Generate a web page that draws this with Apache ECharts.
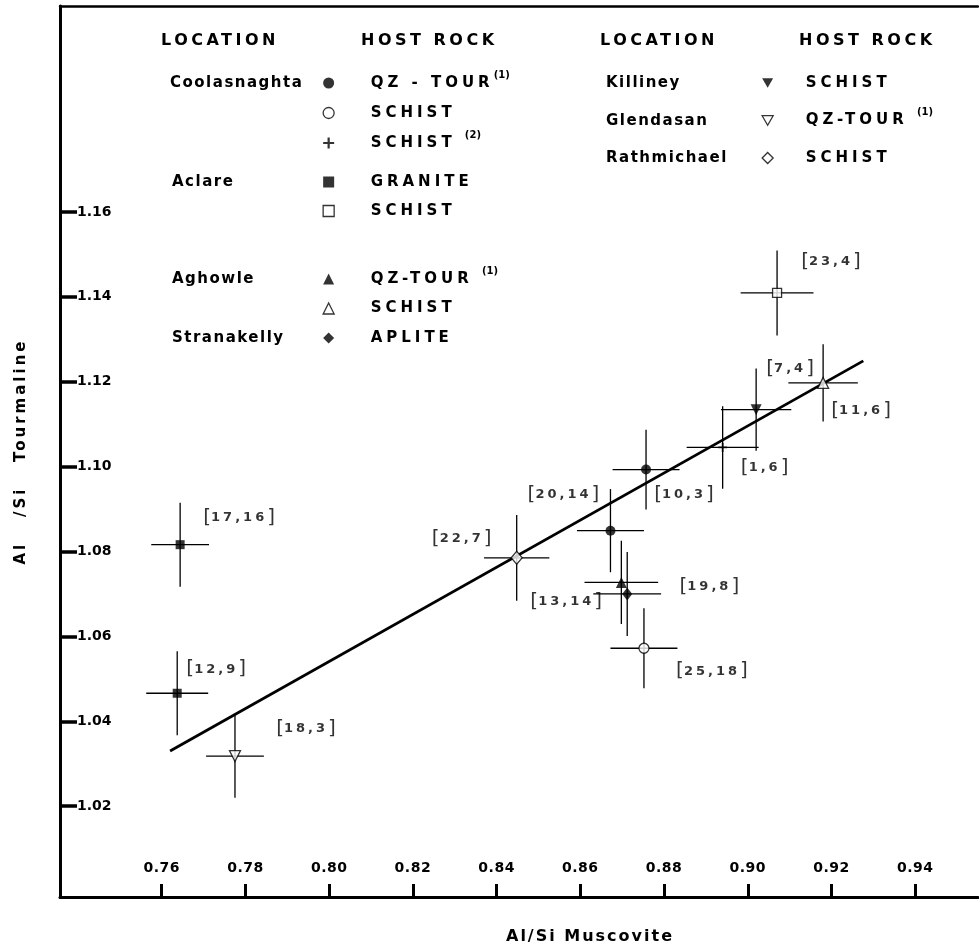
<!DOCTYPE html>
<html><head><meta charset="utf-8">
<script src="https://cdn.jsdelivr.net/npm/echarts@6/dist/echarts.min.js"></script>
<style>html,body{margin:0;padding:0;background:#fff}#chart{width:979px;height:951px}</style>
</head><body><div id="chart"></div>
<script>
// Letter spacing support: a fallback family "lsNN" in the font string means NN tenths of a px.
(function () {
  const proto = window.CanvasRenderingContext2D && CanvasRenderingContext2D.prototype;
  if (!proto || !('letterSpacing' in proto)) return;
  const re = /ls(\d+)/;
  const apply = ctx => { const m = re.exec(ctx.font); ctx.letterSpacing = m ? (m[1] / 10) + 'px' : '0px'; };
  const ft = proto.fillText, st = proto.strokeText, mt = proto.measureText;
  proto.fillText = function () { apply(this); return ft.apply(this, arguments); };
  proto.strokeText = function () { apply(this); return st.apply(this, arguments); };
  proto.measureText = function () { apply(this); return mt.apply(this, arguments); };
})();

// ---------------- DATA ----------------
const xTicks = [0.76, 0.78, 0.80, 0.82, 0.84, 0.86, 0.88, 0.90, 0.92, 0.94];
const yTicks = [1.02, 1.04, 1.06, 1.08, 1.10, 1.12, 1.14, 1.16];
// [Al/Si muscovite, Al/Si tourmaline, x error, y error, label]
const coolasnaghtaQzTour = [[0.8672, 1.0849, 0.0080, 0.0098, '20,14'], [0.8757, 1.0993, 0.0080, 0.0094, '10,3']];
const coolasnaghtaSchist = [[0.8752, 1.0572, 0.0080, 0.0094, '25,18']];
const coolasnaghtaSchist2 = [[0.8940, 1.1045, 0.0086, 0.0097, '1,6']];
const aclareGranite = [[0.7644, 1.0816, 0.0069, 0.0099, '17,16'], [0.7637, 1.0466, 0.0074, 0.0099, '12,9']];
const aclareSchist = [[0.9070, 1.1409, 0.0087, 0.0100, '23,4']];
const aghowleQzTour = [[0.8698, 1.0727, 0.0088, 0.0098, '19,8']];
const aghowleSchist = [[0.9180, 1.1197, 0.0083, 0.0091, '11,6']];
const stranakellyAplite = [[0.8712, 1.0700, 0.0081, 0.0099, '13,14']];
const killineySchist = [[0.9020, 1.1134, 0.0084, 0.0097, '7,4']];
const glendasanQzTour = [[0.7775, 1.0318, 0.0069, 0.0098, '18,3']];
const rathmichaelSchist = [[0.8448, 1.0785, 0.0078, 0.0101, '22,7']];
const regressionLine = [[0.762, 1.033], [0.9276, 1.1249]];

// ---------------- LAYOUT / STYLE ----------------
const F = t => `DejaVu Sans, ls${t}`;
const labelOffsets = {
  '17,16': [59, -27], '12,9': [39, -24], '18,3': [71, -27], '22,7': [-55, -19],
  '20,14': [-47, -36], '10,3': [38, 25], '13,14': [-61, 8], '19,8': [88, 4],
  '25,18': [68, 23], '1,6': [42, 20], '7,4': [34, -41], '11,6': [38, 28], '23,4': [54, -31]
};
const DOWN = 'path://M0,0L10,0L5,8.7Z';
const PLUS = 'path://M4,0H6V4H10V6H6V10H4V6H0V4H4Z';
const groups = [
  { name: 'Coolasnaghta QZ-TOUR', host: 'QZ - TOUR{sup|(1)}', data: coolasnaghtaQzTour, symbol: 'circle', size: 10, open: false },
  { name: 'Coolasnaghta SCHIST', host: 'SCHIST', data: coolasnaghtaSchist, symbol: 'circle', size: 10, open: true },
  { name: 'Coolasnaghta SCHIST (2)', host: 'SCHIST {sup|(2)}', data: coolasnaghtaSchist2, symbol: PLUS, size: 9, open: false },
  { name: 'Aclare GRANITE', host: 'GRANITE', data: aclareGranite, symbol: 'rect', size: 9, open: false },
  { name: 'Aclare SCHIST', host: 'SCHIST', data: aclareSchist, symbol: 'rect', size: 9, open: true },
  { name: 'Aghowle QZ-TOUR', host: 'QZ-TOUR {sup|(1)}', data: aghowleQzTour, symbol: 'triangle', size: 11, open: false },
  { name: 'Aghowle SCHIST', host: 'SCHIST', data: aghowleSchist, symbol: 'triangle', size: 11, open: true },
  { name: 'Stranakelly APLITE', host: 'APLITE', data: stranakellyAplite, symbol: 'diamond', size: [10, 13], open: false },
  { name: 'Killiney SCHIST', host: 'SCHIST', data: killineySchist, symbol: DOWN, size: 11, open: false },
  { name: 'Glendasan QZ-TOUR', host: 'QZ-TOUR {sup|(1)}', data: glendasanQzTour, symbol: DOWN, size: 11, open: true },
  { name: 'Rathmichael SCHIST', host: 'SCHIST', data: rathmichaelSchist, symbol: 'diamond', size: [11, 13], open: true }
];
const hostByName = {};
groups.forEach(g => hostByName[g.name] = g.host);
const styleOf = g => g.open ? { color: '#fff', borderColor: '#000', borderWidth: 1.3 } : { color: '#000', borderWidth: 0 };

const X_MIN = 0.7357, X_MAX = 0.955, Y_MIN = 0.9986, Y_MAX = 1.2085;

const allPoints = [].concat(...groups.map(g => g.data)).map(d => [d[0], d[1], d[2], d[3]]);

function legendBlock(names, left, top, gap, textPad) {
  return {
    orient: 'vertical', align: 'left', left, top, padding: 0, itemGap: gap,
    itemWidth: 11, itemHeight: 11, selectedMode: false,
    textStyle: {
      color: '#000', fontFamily: F(40), fontWeight: 'bold', fontSize: 15, lineHeight: 26,
      padding: [0, 0, 0, textPad],
      rich: { sup: { color: '#000', fontFamily: F(0), fontWeight: 'bold', fontSize: 10, lineHeight: 11, verticalAlign: 'top' } }
    },
    formatter: n => hostByName[n],
    data: names.map(n => { const g = groups.find(q => q.name === n); return { name: n, itemStyle: styleOf(g) }; })
  };
}

const headerTexts = [['LOCATION', 161, 41], ['HOST ROCK', 361, 41], ['LOCATION', 600, 41], ['HOST ROCK', 799, 41]];
const locationTexts = [['Coolasnaghta', 170, 83], ['Aclare', 172, 182], ['Aghowle', 172, 279], ['Stranakelly', 172, 338],
  ['Killiney', 606, 83], ['Glendasan', 606, 121], ['Rathmichael', 606, 158]];

const graphics = [
  ...headerTexts.map(([t, x, y]) => ({ type: 'text', x, y, silent: true,
    style: { text: t, fill: '#000', fontFamily: F(35), fontWeight: 'bold', fontSize: 16, verticalAlign: 'middle', align: 'left' } })),
  ...locationTexts.map(([t, x, y]) => ({ type: 'text', x, y, silent: true,
    style: { text: t, fill: '#000', fontFamily: F(15), fontWeight: 'bold', fontSize: 15, verticalAlign: 'middle', align: 'left' } }))
];

const chart = echarts.init(document.getElementById('chart'), null, { renderer: 'canvas' });
chart.setOption({
  animation: false,
  backgroundColor: '#fff',
  grid: { left: 60, right: 1, top: 6, bottom: 53, containLabel: false },
  xAxis: [{
    type: 'value', min: X_MIN, max: X_MAX, position: 'bottom',
    axisLine: { show: true, onZero: false, lineStyle: { color: '#000', width: 3 } },
    axisTick: { show: true, inside: true, length: 13, customValues: xTicks, lineStyle: { color: '#000', width: 3 } },
    axisLabel: { inside: true, margin: 21, customValues: xTicks, formatter: v => v.toFixed(2),
      color: '#000', fontFamily: F(5), fontWeight: 'bold', fontSize: 14 },
    splitLine: { show: false },
    name: 'Al/Si Muscovite', nameLocation: 'middle', nameGap: 31,
    nameTextStyle: { color: '#000', fontFamily: F(20), fontWeight: 'bold', fontSize: 16, padding: [0, 0, 0, 142] }
  }, {
    type: 'value', min: X_MIN, max: X_MAX, position: 'top',
    axisLine: { show: true, onZero: false, lineStyle: { color: '#000', width: 2.5 } },
    axisTick: { show: false }, axisLabel: { show: false }, splitLine: { show: false }
  }],
  yAxis: {
    type: 'value', min: Y_MIN, max: Y_MAX, position: 'left',
    axisLine: { show: true, onZero: false, lineStyle: { color: '#000', width: 3 } },
    axisTick: { show: true, inside: true, length: 17, customValues: yTicks, lineStyle: { color: '#000', width: 3.5 } },
    axisLabel: { inside: true, margin: 17, customValues: yTicks, formatter: v => v.toFixed(2),
      color: '#000', fontFamily: F(0), fontWeight: 'bold', fontSize: 14 },
    splitLine: { show: false },
    name: 'Al   /Si   Tourmaline', nameLocation: 'middle', nameGap: 30, nameRotate: 90,
    nameTextStyle: { color: '#000', fontFamily: F(30), fontWeight: 'bold', fontSize: 15 }
  },
  legend: [
    legendBlock(['Coolasnaghta QZ-TOUR', 'Coolasnaghta SCHIST', 'Coolasnaghta SCHIST (2)'], 322.5, 70, 4, 31.5),
    legendBlock(['Aclare GRANITE', 'Aclare SCHIST'], 322.5, 169, 3, 31.5),
    legendBlock(['Aghowle QZ-TOUR', 'Aghowle SCHIST', 'Stranakelly APLITE'], 322.5, 266, 3.5, 31.5),
    legendBlock(['Killiney SCHIST', 'Glendasan QZ-TOUR', 'Rathmichael SCHIST'], 761.5, 70, 11.5, 27.5)
  ],
  graphic: graphics,
  series: [
    {
      type: 'custom', name: 'error bars', silent: true, z: 1,
      data: allPoints, encode: { x: 0, y: 1 },
      renderItem(params, api) {
        const x = api.value(0), y = api.value(1), xe = api.value(2), ye = api.value(3);
        const l = api.coord([x - xe, y]), r = api.coord([x + xe, y]);
        const t = api.coord([x, y + ye]), b = api.coord([x, y - ye]);
        const style = { stroke: '#000', lineWidth: 1.3 };
        return { type: 'group', children: [
          { type: 'line', shape: { x1: l[0], y1: l[1], x2: r[0], y2: r[1] }, style },
          { type: 'line', shape: { x1: t[0], y1: t[1], x2: b[0], y2: b[1] }, style }
        ] };
      }
    },
    {
      type: 'line', name: 'regression', data: regressionLine, symbol: 'none', silent: true, z: 2,
      lineStyle: { color: '#000', width: 2.8 }
    },
    ...groups.map(g => ({
      type: 'scatter', name: g.name, symbol: g.symbol, symbolSize: g.size, z: 3, silent: true,
      itemStyle: styleOf(g),
      label: {
        show: true, position: 'inside', color: '#000',
        rich: {
          b: { color: '#000', fontFamily: F(0), fontSize: 20 },
          n: { color: '#000', fontFamily: F(30), fontWeight: 'bold', fontSize: 13 }
        }
      },
      data: g.data.map(d => ({
        value: [d[0], d[1]],
        label: { formatter: `{b|[}{n|${d[4]}}{b|]}`, offset: labelOffsets[d[4]] }
      }))
    }))
  ]
});
</script></body></html>
